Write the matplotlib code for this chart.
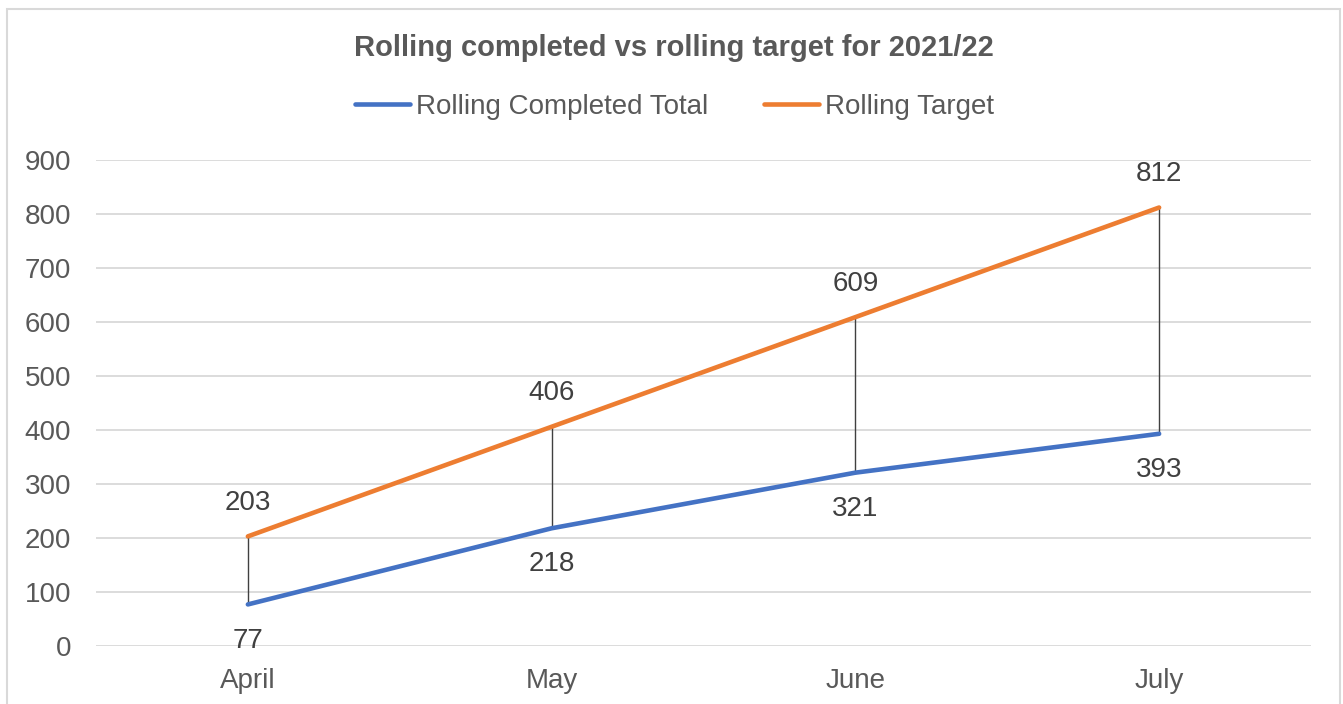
import matplotlib.pyplot as plt
from matplotlib.patches import Rectangle

plt.rcParams['font.family'] = ['Liberation Sans', 'DejaVu Sans']

months = ['April', 'May', 'June', 'July']
completed = [77, 218, 321, 393]
target = [203, 406, 609, 812]

blue = '#4472C4'
orange = '#ED7D31'
grey_txt = '#595959'

fig = plt.figure(figsize=(13.43, 7.04), dpi=100)
ax = fig.add_axes([96 / 1343, 1 - 646 / 704, (1311 - 96) / 1343, (646 - 160) / 704])

x = list(range(len(months)))

# high-low lines
for i in x:
    ax.plot([i, i], [completed[i], target[i]], color='#404040', lw=1.0, zorder=2)

ax.plot(x, completed, color=blue, lw=3.3, solid_capstyle='round',
        label='Rolling Completed Total', zorder=3)
ax.plot(x, target, color=orange, lw=3.3, solid_capstyle='round',
        label='Rolling Target', zorder=3)

for i in x:
    ax.annotate(str(target[i]), (i, target[i]), xytext=(0, 24), textcoords='offset points',
                ha='center', va='center', fontsize=20, color='#404040')
    ax.annotate(str(completed[i]), (i, completed[i]), xytext=(0, -26), textcoords='offset points',
                ha='center', va='center', fontsize=20, color='#404040')

ax.set_xlim(-0.5, 3.5)
ax.set_ylim(0, 900)
ax.set_yticks(range(0, 1000, 100))
ax.set_xticks(x)
ax.set_xticklabels(months)
ax.grid(axis='y', color='#D9D9D9', lw=1.3)
ax.set_axisbelow(True)
for s in ax.spines.values():
    s.set_visible(False)
ax.tick_params(length=0, labelsize=20, colors=grey_txt)
ax.tick_params(axis='x', pad=16)
ax.tick_params(axis='y', pad=18)

fig.text(0.502, 1 - 48 / 704, 'Rolling completed vs rolling target for 2021/22',
         ha='center', va='center', fontsize=21, fontweight='bold', color=grey_txt)
fig.legend(loc='center', bbox_to_anchor=(0.502, 1 - 107 / 704), ncol=2, frameon=False,
           fontsize=20, handlelength=2.0, handletextpad=0.2, columnspacing=2.0,
           labelcolor=grey_txt)

fig.patches.append(Rectangle((7 / 1343, -0.05), (1340 - 7) / 1343, 1.05 - 9 / 704,
                             transform=fig.transFigure, fill=False,
                             edgecolor='#D9D9D9', lw=1.5))

fig.savefig('out.png', dpi=100)
